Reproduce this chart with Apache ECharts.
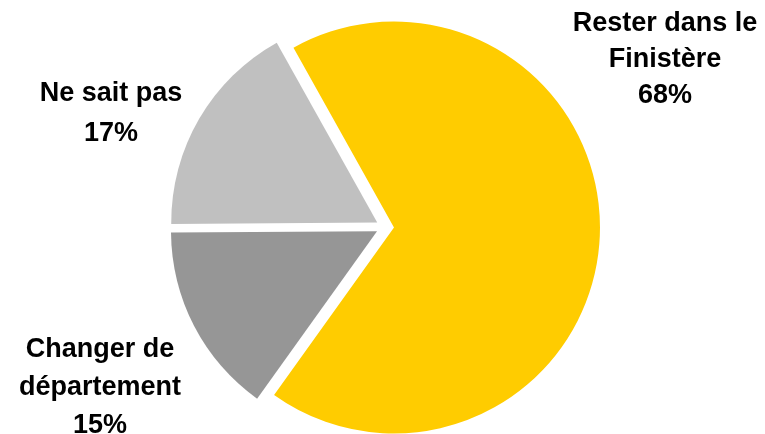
<!DOCTYPE html>
<html>
<head>
<meta charset="utf-8">
<script src="https://cdn.jsdelivr.net/npm/echarts@6/dist/echarts.min.js"></script>
<style>
html,body{margin:0;padding:0;background:#fff;}
#chart{width:765px;height:434px;}
</style>
</head>
<body>
<div id="chart"></div>
<script>
const categories = ['Rester dans le\nFinistère', 'Changer de\ndépartement', 'Ne sait pas'];
const values = [68, 15, 17];
const colors = ['#FFCC00', '#969696', '#C0C0C0'];
const labelPos = [[665, 60], [100, 388], [111, 114]];
const labelLineHeights = [36, 38, 40];

const chart = echarts.init(document.getElementById('chart'), null, {renderer: 'canvas'});
chart.setOption({
  animation: false,
  backgroundColor: '#ffffff',
  graphic: categories.map((c, i) => ({
    type: 'text',
    x: labelPos[i][0],
    y: labelPos[i][1],
    silent: true,
    style: {
      text: c + '\n' + values[i] + '%',
      fill: '#000',
      font: 'bold 27px "Liberation Sans", Arial, sans-serif',
      lineHeight: labelLineHeights[i],
      align: 'center',
      verticalAlign: 'middle'
    }
  })),
  series: [{
    type: 'pie',
    center: [385, 227],
    radius: 206,
    startAngle: 119.2,
    clockwise: true,
    selectedMode: 'multiple',
    selectedOffset: 9,
    emphasis: {disabled: true},
    itemStyle: {borderWidth: 0},
    label: {show: false},
    labelLine: {show: false},
    data: categories.map((c, i) => ({
      name: c,
      value: values[i],
      selected: true,
      itemStyle: {color: colors[i]}
    }))
  }]
});
</script>
</body>
</html>
